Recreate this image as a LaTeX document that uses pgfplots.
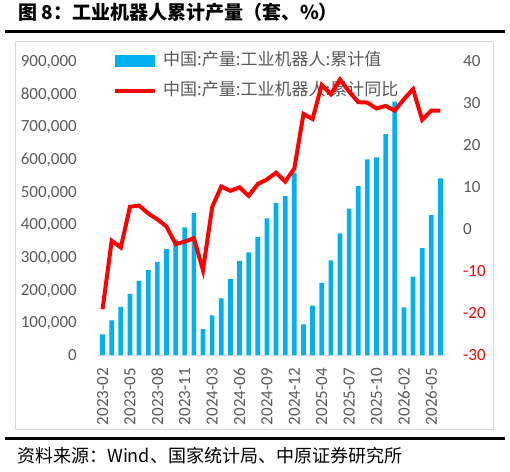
\documentclass[border=0pt]{standalone}
\usepackage{pgfplots}
\pgfplotsset{compat=1.18}
\usepackage{pgfplotstable}
\usepackage{fontspec}
\setmainfont{Carlito}
\newfontfamily\cjk{Noto Sans CJK SC}
\definecolor{barblue}{HTML}{00B0F0}
\definecolor{txtgray}{HTML}{595959}
\definecolor{framegray}{HTML}{D9D9D9}
\pgfplotstableread{
idx bar yoy
0 63000 -19.1
1 106000 -2.8
2 147000 -4.4
3 187000 5.3
4 227000 5.6
5 260000 3.7
6 285000 2.3
7 324000 0.6
8 354000 -3.6
9 391000 -3.0
10 434000 -2.2
11 79000 -9.8
12 121000 5.2
13 173000 10.1
14 232000 9.1
15 288000 9.9
16 314000 7.9
17 362000 10.7
18 418000 11.8
19 466000 13.4
20 486000 11.3
21 558000 14.4
22 94000 27.4
23 151000 26.2
24 221000 34.3
25 290000 32.1
26 372000 35.6
27 448000 32.7
28 517000 30.2
29 599000 30.1
30 605000 28.7
31 676000 29.3
32 776000 28.2
33 146000 30.9
34 240000 33.3
35 327000 26.0
36 428000 28.2
37 541000 28.2
}\datatable
\begin{document}
\begin{tikzpicture}
\useasboundingbox (0pt,0pt) rectangle (510pt,-471pt);
\draw[framegray, line width=1pt] (15pt,-41pt) rectangle (493pt,-429pt);
\node[anchor=base west, inner sep=0pt] at (18pt,-19pt) {\fontsize{19pt}{22pt}\selectfont\cjk\bfseries 图 8：工业机器人累计产量（套、\%）};
\fill[black] (5pt,-29.5pt) rectangle (505pt,-32.5pt);
\fill[black] (5pt,-437pt) rectangle (505pt,-440pt);
\node[anchor=base west, inner sep=0pt] at (17pt,-462pt) {\fontsize{18pt}{21pt}\selectfont\cjk 资料来源：Wind、国家统计局、中原证券研究所};
\begin{axis}[
  at={(98pt,-355pt)}, anchor=south west,
  scale only axis, width=347pt, height=294pt,
  xmin=-0.5, xmax=37.5, ymin=0, ymax=900000,
  scaled y ticks=false,
  axis x line*=bottom, axis y line*=left,
  x axis line style={framegray, line width=1pt},
  y axis line style={draw=none},
  major tick length=0pt,
  xtick={0,3,...,36},
  xticklabels={2023-02,2023-05,2023-08,2023-11,2024-03,2024-06,2024-09,2024-12,2025-04,2025-07,2025-10,2026-02,2026-05},
  xticklabel style={rotate=90, anchor=east, inner sep=0pt, font=\fontsize{17pt}{20pt}\selectfont, text=txtgray},
  xticklabel shift=13pt,
  ytick={0,100000,...,900000},
  yticklabels={0,{100,000},{200,000},{300,000},{400,000},{500,000},{600,000},{700,000},{800,000},{900,000}},
  yticklabel style={anchor=base east, inner sep=0pt, xshift=-21pt, yshift=-5.4pt, font=\fontsize{17pt}{20pt}\selectfont, text=txtgray},
  legend style={draw=none, fill=none, at={(0.043,1.025)}, anchor=north west, inner sep=0pt,
    nodes={inner sep=0pt, text height=12pt, text depth=3pt, font=\fontsize{17pt}{20pt}\selectfont\cjk, text=txtgray},
    row sep=15pt, column sep=6pt},
  legend cell align=left,
]
\addplot[ybar, bar width=4.7pt, fill=barblue, draw=none,
  legend image code/.code={\fill[barblue] (0pt,-6pt) rectangle (40pt,6pt);}]
  table[x=idx, y=bar]{\datatable};
\addlegendentry{中国:产量:工业机器人:累计值}
\addlegendimage{red, line width=4pt, legend image code/.code={\draw[red, line width=4pt] (0pt,0pt) -- (40pt,0pt);}}
\addlegendentry{中国:产量:工业机器人:累计同比}
\end{axis}
\begin{axis}[
  at={(98pt,-355pt)}, anchor=south west,
  scale only axis, width=347pt, height=294pt,
  xmin=-0.5, xmax=37.5, ymin=-30, ymax=40,
  axis x line=none, axis y line*=right,
  y axis line style={draw=none},
  major tick length=0pt,
  ytick={-30,-20,...,40},
  yticklabels={{\color{red}-30},{\color{red}-20},{\color{red}-10},0,10,20,30,40},
  yticklabel style={anchor=base west, inner sep=0pt, xshift=18pt, yshift=-5.4pt, font=\fontsize{17pt}{20pt}\selectfont, text=txtgray},
]
\addplot[red, line width=4pt] table[x=idx, y=yoy]{\datatable};
\end{axis}
\end{tikzpicture}
\end{document}
